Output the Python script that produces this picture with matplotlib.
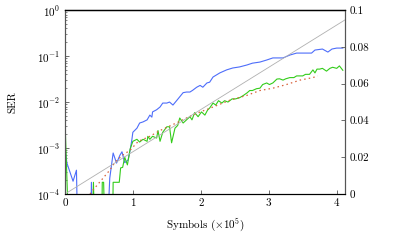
import numpy as np
import matplotlib
matplotlib.use("Agg")
import matplotlib.pyplot as plt
from matplotlib.ticker import FixedLocator, LogLocator, NullFormatter

plt.rcParams['font.family'] = 'serif'
plt.rcParams['font.serif'] = ['cmr10', 'DejaVu Serif']
plt.rcParams['mathtext.fontset'] = 'cm'
plt.rcParams['axes.formatter.use_mathtext'] = True
plt.rcParams['font.size'] = 8

# symbols in units of 1e5, SER values (1e-5 = drops below the axis)
blue_x = [0.00, 0.03, 0.12, 0.17, 0.19, 0.38, 0.39, 0.41, 0.62, 0.66, 0.71, 0.76, 0.81,
          0.84, 0.88, 0.93, 0.96, 0.985, 1.00, 1.06, 1.10, 1.15, 1.21, 1.25, 1.28, 1.29,
          1.35, 1.40, 1.44, 1.50, 1.54, 1.59, 1.65, 1.69, 1.74, 1.79, 1.84, 1.88, 1.94,
          1.99, 2.03, 2.09, 2.13, 2.18, 2.28, 2.38, 2.47, 2.57, 2.68, 2.76, 2.87, 2.97,
          3.06, 3.12, 3.21, 3.31, 3.41, 3.50, 3.63, 3.68, 3.79, 3.87, 3.93, 4.00, 4.09]
blue_y = [1.0e-3, 4.7e-4, 1.9e-4, 3.3e-4, 1e-5, 1e-5, 1.8e-4, 1e-5, 1e-5, 2.2e-4, 7.8e-4,
          4.7e-4, 7.0e-4, 8.3e-4, 4.8e-4, 5.5e-4, 9.0e-4, 1.5e-3, 2.2e-3, 2.7e-3, 3.5e-3,
          3.7e-3, 4.1e-3, 5.2e-3, 4.7e-3, 6.1e-3, 6.8e-3, 7.8e-3, 9.5e-3, 9.5e-3, 1.0e-2,
          8.6e-3, 1.1e-2, 1.3e-2, 1.6e-2, 1.65e-2, 1.65e-2, 1.8e-2, 2.1e-2, 2.3e-2, 2.1e-2,
          2.6e-2, 2.7e-2, 3.5e-2, 4.3e-2, 5.0e-2, 5.5e-2, 5.8e-2, 6.4e-2, 7.0e-2, 7.4e-2,
          8.2e-2, 9.1e-2, 9.1e-2, 9.1e-2, 0.105, 0.116, 0.116, 0.116, 0.135, 0.142, 0.122,
          0.142, 0.149, 0.149]

green_x = [0.00, 0.06, 0.40, 0.42, 0.44, 0.54, 0.55, 0.57, 0.59, 0.70, 0.71, 0.80, 0.82,
           0.85, 0.88, 0.92, 0.96, 1.00, 1.06, 1.10, 1.15, 1.21, 1.22, 1.25, 1.29, 1.35,
           1.37, 1.40, 1.44, 1.50, 1.54, 1.57, 1.62, 1.66, 1.69, 1.74, 1.79, 1.84, 1.87,
           1.91, 1.96, 2.01, 2.06, 2.10, 2.13, 2.18, 2.22, 2.26, 2.31, 2.35, 2.40, 2.46,
           2.51, 2.57, 2.62, 2.68, 2.72, 2.76, 2.82, 2.87, 2.91, 2.97, 3.01, 3.06, 3.12,
           3.16, 3.21, 3.25, 3.31, 3.37, 3.41, 3.50, 3.54, 3.60, 3.65, 3.68, 3.71, 3.75,
           3.79, 3.85, 3.90, 3.94, 4.00, 4.04, 4.09]
green_y = [4.5e-3, 1e-5, 1e-5, 1.8e-4, 1e-5, 1e-5, 1.8e-4, 1.8e-4, 1e-5, 1e-5, 1.8e-4,
           1.8e-4, 3.7e-4, 3.8e-4, 6.3e-4, 4.3e-4, 9.5e-4, 1.4e-3, 1.55e-3, 1.35e-3,
           1.55e-3, 1.4e-3, 1.8e-3, 1.55e-3, 1.8e-3, 1.65e-3, 2.4e-3, 1.4e-3, 2.2e-3,
           2.9e-3, 2.9e-3, 1.3e-3, 2.7e-3, 3.1e-3, 4.5e-3, 3.5e-3, 4.1e-3, 4.8e-3, 4.1e-3,
           5.9e-3, 4.8e-3, 6.1e-3, 5.2e-3, 6.7e-3, 7.4e-3, 9.5e-3, 8.6e-3, 1.07e-2, 9.5e-3,
           1.07e-2, 1.0e-2, 1.17e-2, 1.17e-2, 1.24e-2, 1.37e-2, 1.58e-2, 1.78e-2, 1.78e-2,
           1.95e-2, 2.0e-2, 2.4e-2, 2.6e-2, 2.4e-2, 2.6e-2, 3.16e-2, 3.2e-2, 3.0e-2, 3.2e-2,
           3.4e-2, 3.4e-2, 3.7e-2, 3.7e-2, 4.0e-2, 4.0e-2, 5.0e-2, 4.3e-2, 5.2e-2, 5.2e-2,
           5.4e-2, 4.7e-2, 5.4e-2, 5.7e-2, 5.4e-2, 6.1e-2, 4.9e-2]

red_x = [0.37, 0.41, 0.51, 0.66, 0.74, 0.85, 0.96, 1.08, 1.25, 1.40, 1.54, 1.69, 1.84,
         1.99, 2.10, 2.43, 2.68, 2.87, 3.06, 3.26, 3.46, 3.65, 3.72]
red_y = [1.0e-4, 1.2e-4, 1.8e-4, 3.3e-4, 5.0e-4, 7.0e-4, 9.0e-4, 1.4e-3, 1.8e-3, 2.4e-3,
         3.0e-3, 3.8e-3, 4.9e-3, 6.1e-3, 7.0e-3, 1.1e-2, 1.4e-2, 1.78e-2, 2.0e-2, 2.4e-2,
         3.0e-2, 3.4e-2, 3.7e-2]

# linear reference on the right axis
grey_x = [0.0, 4.12]
grey_y = [0.0, 0.0946]

fig = plt.figure(figsize=(4.16, 2.45), dpi=100)
ax = fig.add_axes([0.156, 0.208, 0.673, 0.751])
ax2 = ax.twinx()

ax2.plot(grey_x, grey_y, color='#b0b0b0', lw=0.6)
ax.plot(blue_x, blue_y, color='#4d6dfa', lw=0.8)
ax.plot(green_x, green_y, color='#33cc1a', lw=0.8)
ax.plot(red_x, red_y, color='#d8603a', lw=0.9, ls=(0, (1.2, 2.5)))

ax.set_yscale('log')
ax.set_ylim(1e-4, 1)
ax.set_xlim(0, 4.12)
ax.set_xticks([0, 1, 2, 3, 4])
ax.set_xticklabels(['0', '1', '2', '3', '4'])
ax.yaxis.set_major_locator(FixedLocator([1e-4, 1e-3, 1e-2, 1e-1, 1]))
ax.set_yticklabels([r'$10^{-4}$', r'$10^{-3}$', r'$10^{-2}$', r'$10^{-1}$', r'$10^{0}$'])
ax.yaxis.set_minor_locator(LogLocator(base=10, subs=np.arange(2, 10)))
ax.yaxis.set_minor_formatter(NullFormatter())

ax2.set_ylim(0, 0.1)
ax2.set_yticks([0, 0.02, 0.04, 0.06, 0.08, 0.1])
ax2.set_yticklabels(['0', '0.02', '0.04', '0.06', '0.08', '0.1'])

for a in (ax, ax2):
    a.tick_params(direction='in', which='both', top=False, labelsize=8)
    a.tick_params(which='major', length=3, width=0.6, color='#555555')
    a.tick_params(which='minor', length=1.5, width=0.5, color='#555555')
    a.spines['top'].set_linewidth(0.9)
    a.spines['bottom'].set_linewidth(0.8)
    a.spines['left'].set_color('#555555')
    a.spines['right'].set_color('#555555')
ax.tick_params(axis='y', which='both', right=False)
ax2.tick_params(axis='y', which='both', left=False)

ax.set_ylabel('SER', fontsize=8, labelpad=14)
ax.set_xlabel(r'Symbols ($\times 10^5$)', fontsize=8, labelpad=6)

fig.savefig('out.png', dpi=100)
